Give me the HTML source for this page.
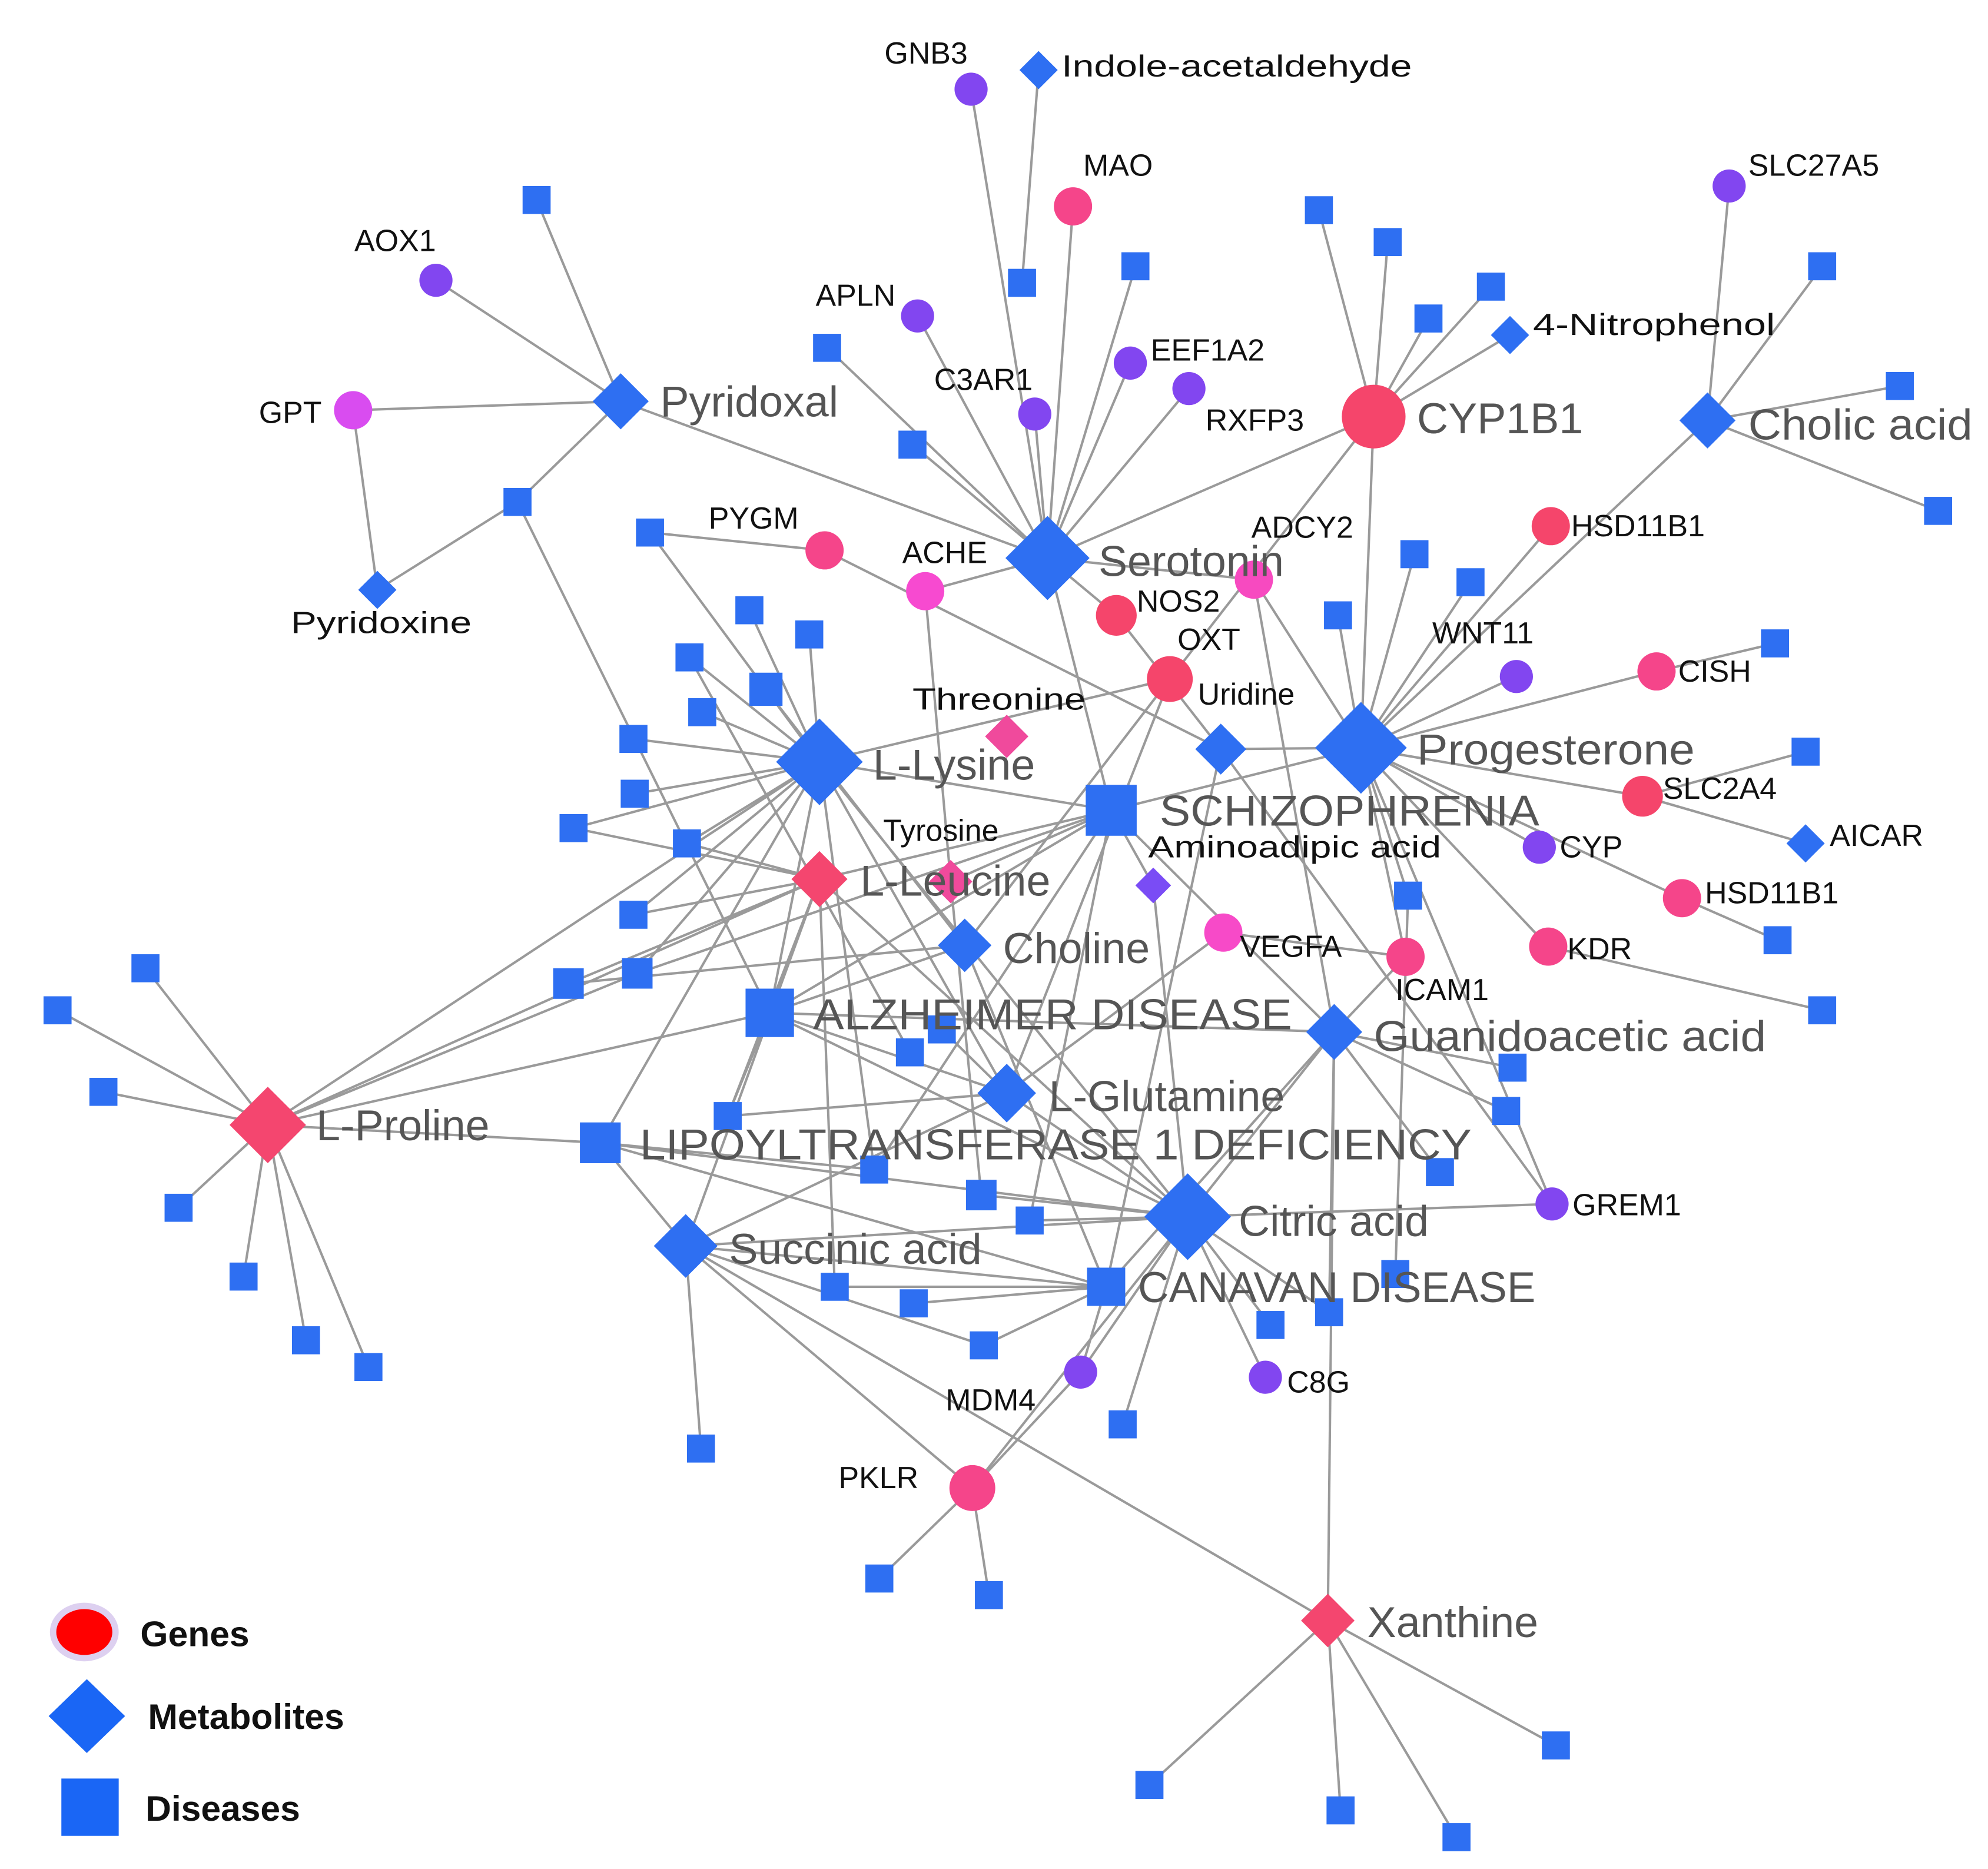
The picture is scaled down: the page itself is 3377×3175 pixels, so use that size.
<!DOCTYPE html>
<html><head><meta charset="utf-8"><style>
html,body{margin:0;padding:0;background:#fff;}
svg{display:block;}
.e{stroke:#9a9a9a;stroke-width:1.9;fill:none}
.b{fill:#2e6ff2}
.L{font-family:"Liberation Sans",sans-serif;font-size:34px;fill:#555;}
.s{font-family:"Liberation Sans",sans-serif;font-size:24px;fill:#111;}
.g{font-family:"Liberation Sans",sans-serif;font-size:28px;font-weight:bold;fill:#111;}
</style></head><body>
<svg width="3377" height="3175" viewBox="0 0 1560 1467" xmlns="http://www.w3.org/2000/svg">
<g class="e">
<line x1="762" y1="70" x2="822" y2="438"/><line x1="815" y1="55" x2="802" y2="222"/>
<line x1="842" y1="162" x2="822" y2="438"/><line x1="891" y1="209" x2="822" y2="438"/>
<line x1="649" y1="273" x2="822" y2="438"/><line x1="716" y1="349" x2="822" y2="438"/>
<line x1="720" y1="248" x2="822" y2="438"/><line x1="887" y1="285" x2="822" y2="438"/>
<line x1="933" y1="305" x2="822" y2="438"/><line x1="812" y1="325" x2="822" y2="438"/>
<line x1="822" y1="438" x2="1078" y2="327"/><line x1="726" y1="464" x2="822" y2="438"/>
<line x1="822" y1="438" x2="872" y2="636"/><line x1="822" y1="438" x2="876" y2="483"/>
<line x1="822" y1="438" x2="984" y2="455"/><line x1="487" y1="315" x2="822" y2="438"/>
<line x1="342" y1="220" x2="487" y2="315"/><line x1="421" y1="157" x2="487" y2="315"/>
<line x1="277" y1="322" x2="487" y2="315"/><line x1="277" y1="322" x2="296" y2="463"/>
<line x1="296" y1="463" x2="406" y2="394"/><line x1="406" y1="394" x2="487" y2="315"/>
<line x1="406" y1="394" x2="604" y2="795"/>
<line x1="1035" y1="165" x2="1078" y2="327"/><line x1="1089" y1="190" x2="1078" y2="327"/>
<line x1="1170" y1="225" x2="1078" y2="327"/><line x1="1121" y1="250" x2="1078" y2="327"/>
<line x1="1185" y1="263" x2="1078" y2="327"/><line x1="1078" y1="327" x2="1068" y2="587"/>
<line x1="1078" y1="327" x2="918" y2="533"/><line x1="918" y1="533" x2="757" y2="742"/>
<line x1="1357" y1="146" x2="1340" y2="330"/><line x1="1430" y1="209" x2="1340" y2="330"/>
<line x1="1491" y1="303" x2="1340" y2="330"/><line x1="1521" y1="401" x2="1340" y2="330"/>
<line x1="1340" y1="330" x2="1068" y2="587"/>
<line x1="1217" y1="413" x2="1068" y2="587"/><line x1="1110" y1="435" x2="1068" y2="587"/>
<line x1="1154" y1="457" x2="1068" y2="587"/><line x1="1050" y1="483" x2="1068" y2="587"/>
<line x1="1190" y1="531" x2="1068" y2="587"/><line x1="1300" y1="527" x2="1068" y2="587"/>
<line x1="1393" y1="505" x2="1300" y2="527"/><line x1="1289" y1="625" x2="1068" y2="587"/>
<line x1="1417" y1="590" x2="1289" y2="625"/><line x1="1208" y1="665" x2="1068" y2="587"/>
<line x1="1289" y1="625" x2="1417" y2="662"/><line x1="1320" y1="705" x2="1068" y2="587"/>
<line x1="1320" y1="705" x2="1395" y2="738"/><line x1="1215" y1="743" x2="1068" y2="587"/>
<line x1="1215" y1="743" x2="1430" y2="793"/><line x1="1103" y1="751" x2="1068" y2="587"/>
<line x1="1105" y1="703" x2="1068" y2="587"/><line x1="984" y1="455" x2="1068" y2="587"/>
<line x1="872" y1="636" x2="1068" y2="587"/><line x1="958" y1="588" x2="1068" y2="587"/>
<line x1="1218" y1="945" x2="1068" y2="587"/><line x1="984" y1="455" x2="1047" y2="810"/>
<line x1="510" y1="418" x2="647" y2="432"/><line x1="647" y1="432" x2="958" y2="588"/>
<line x1="958" y1="588" x2="1218" y2="945"/><line x1="876" y1="483" x2="958" y2="588"/>
<line x1="958" y1="588" x2="868" y2="1010"/>
<line x1="510" y1="418" x2="643" y2="598"/><line x1="588" y1="479" x2="643" y2="598"/>
<line x1="635" y1="498" x2="643" y2="598"/><line x1="541" y1="516" x2="643" y2="598"/>
<line x1="600" y1="540" x2="643" y2="598"/><line x1="551" y1="559" x2="643" y2="598"/>
<line x1="497" y1="580" x2="643" y2="598"/><line x1="498" y1="623" x2="643" y2="598"/>
<line x1="450" y1="650" x2="643" y2="598"/><line x1="539" y1="662" x2="643" y2="598"/>
<line x1="497" y1="718" x2="643" y2="598"/><line x1="500" y1="764" x2="643" y2="598"/>
<line x1="643" y1="598" x2="872" y2="636"/><line x1="643" y1="598" x2="604" y2="795"/>
<line x1="643" y1="598" x2="471" y2="897"/><line x1="643" y1="598" x2="932" y2="955"/>
<line x1="643" y1="598" x2="210" y2="883"/><line x1="643" y1="598" x2="918" y2="533"/>
<line x1="643" y1="598" x2="790" y2="858"/><line x1="643" y1="598" x2="686" y2="918"/>
<line x1="726" y1="464" x2="746" y2="692"/><line x1="746" y1="692" x2="770" y2="938"/>
<line x1="600" y1="540" x2="757" y2="742"/><line x1="541" y1="516" x2="714" y2="826"/>
<line x1="450" y1="650" x2="643" y2="690"/><line x1="539" y1="662" x2="643" y2="690"/>
<line x1="497" y1="718" x2="643" y2="690"/><line x1="446" y1="772" x2="643" y2="690"/>
<line x1="643" y1="690" x2="872" y2="636"/><line x1="643" y1="690" x2="932" y2="955"/>
<line x1="643" y1="690" x2="571" y2="876"/><line x1="643" y1="690" x2="655" y2="1010"/>
<line x1="643" y1="690" x2="538" y2="978"/><line x1="210" y1="883" x2="643" y2="690"/>
<line x1="746" y1="692" x2="872" y2="636"/><line x1="500" y1="764" x2="872" y2="636"/>
<line x1="872" y1="636" x2="686" y2="918"/><line x1="872" y1="636" x2="808" y2="958"/>
<line x1="872" y1="636" x2="604" y2="795"/><line x1="872" y1="636" x2="1047" y2="810"/>
<line x1="905" y1="695" x2="872" y2="636"/>
<line x1="757" y1="742" x2="604" y2="795"/><line x1="757" y1="742" x2="446" y2="772"/>
<line x1="757" y1="742" x2="868" y2="1010"/><line x1="960" y1="732" x2="790" y2="858"/>
<line x1="960" y1="732" x2="1103" y2="751"/><line x1="604" y1="795" x2="1047" y2="810"/>
<line x1="604" y1="795" x2="210" y2="883"/><line x1="604" y1="795" x2="932" y2="955"/>
<line x1="604" y1="795" x2="790" y2="858"/><line x1="604" y1="795" x2="571" y2="876"/>
<line x1="739" y1="808" x2="790" y2="858"/>
<line x1="790" y1="858" x2="932" y2="955"/><line x1="790" y1="858" x2="538" y2="978"/>
<line x1="790" y1="858" x2="918" y2="533"/>
<line x1="1103" y1="751" x2="1047" y2="810"/><line x1="1187" y1="838" x2="1047" y2="810"/>
<line x1="1182" y1="872" x2="1047" y2="810"/><line x1="1047" y1="810" x2="1042" y2="1272"/>
<line x1="1047" y1="810" x2="932" y2="955"/><line x1="1047" y1="810" x2="868" y2="1010"/>
<line x1="1047" y1="810" x2="1130" y2="920"/><line x1="1047" y1="810" x2="1043" y2="1030"/>
<line x1="1105" y1="703" x2="1095" y2="1000"/>
<line x1="471" y1="897" x2="932" y2="955"/><line x1="993" y1="1081" x2="932" y2="955"/>
<line x1="848" y1="1077" x2="932" y2="955"/><line x1="881" y1="1118" x2="932" y2="955"/>
<line x1="997" y1="1040" x2="932" y2="955"/><line x1="1043" y1="1030" x2="932" y2="955"/>
<line x1="1218" y1="945" x2="932" y2="955"/><line x1="538" y1="978" x2="932" y2="955"/>
<line x1="770" y1="938" x2="932" y2="955"/><line x1="808" y1="958" x2="932" y2="955"/>
<line x1="932" y1="955" x2="763" y2="1168"/><line x1="932" y1="955" x2="905" y2="695"/>
<line x1="538" y1="978" x2="868" y2="1010"/><line x1="655" y1="1010" x2="868" y2="1010"/>
<line x1="717" y1="1023" x2="868" y2="1010"/><line x1="772" y1="1056" x2="868" y2="1010"/>
<line x1="848" y1="1077" x2="868" y2="1010"/><line x1="471" y1="897" x2="868" y2="1010"/>
<line x1="471" y1="897" x2="538" y2="978"/><line x1="550" y1="1137" x2="538" y2="978"/>
<line x1="538" y1="978" x2="763" y2="1168"/><line x1="538" y1="978" x2="772" y2="1056"/>
<line x1="538" y1="978" x2="1042" y2="1272"/>
<line x1="690" y1="1239" x2="763" y2="1168"/><line x1="776" y1="1252" x2="763" y2="1168"/>
<line x1="763" y1="1168" x2="848" y2="1077"/>
<line x1="902" y1="1401" x2="1042" y2="1272"/><line x1="1052" y1="1421" x2="1042" y2="1272"/>
<line x1="1143" y1="1442" x2="1042" y2="1272"/><line x1="1221" y1="1370" x2="1042" y2="1272"/>
<line x1="114" y1="760" x2="210" y2="883"/><line x1="45" y1="793" x2="210" y2="883"/>
<line x1="81" y1="857" x2="210" y2="883"/><line x1="140" y1="948" x2="210" y2="883"/>
<line x1="191" y1="1002" x2="210" y2="883"/><line x1="240" y1="1052" x2="210" y2="883"/>
<line x1="289" y1="1073" x2="210" y2="883"/><line x1="210" y1="883" x2="471" y2="897"/>
<line x1="210" y1="883" x2="500" y2="764"/>
<line x1="471" y1="897" x2="686" y2="918"/><line x1="571" y1="876" x2="790" y2="858"/>
</g>
<g class="b">
<rect x="410" y="146" width="22" height="22"/><rect x="395" y="383" width="22" height="22"/>
<rect x="791" y="211" width="22" height="22"/><rect x="880" y="198" width="22" height="22"/>
<rect x="638" y="262" width="22" height="22"/><rect x="705" y="338" width="22" height="22"/>
<rect x="1024" y="154" width="22" height="22"/><rect x="1078" y="179" width="22" height="22"/>
<rect x="1159" y="214" width="22" height="22"/><rect x="1110" y="239" width="22" height="22"/>
<rect x="1419" y="198" width="22" height="22"/><rect x="1480" y="292" width="22" height="22"/>
<rect x="1510" y="390" width="22" height="22"/>
<rect x="1099" y="424" width="22" height="22"/><rect x="1143" y="446" width="22" height="22"/>
<rect x="1039" y="472" width="22" height="22"/><rect x="1382" y="494" width="22" height="22"/>
<rect x="1406" y="579" width="22" height="22"/><rect x="1384" y="727" width="22" height="22"/>
<rect x="1419" y="782" width="22" height="22"/><rect x="1094" y="692" width="22" height="22"/>
<rect x="499" y="407" width="22" height="22"/><rect x="577" y="468" width="22" height="22"/>
<rect x="624" y="487" width="22" height="22"/><rect x="530" y="505" width="22" height="22"/>
<rect x="588" y="528" width="26" height="26"/><rect x="540" y="548" width="22" height="22"/>
<rect x="486" y="569" width="22" height="22"/><rect x="487" y="612" width="22" height="22"/>
<rect x="439" y="639" width="22" height="22"/><rect x="528" y="651" width="22" height="22"/>
<rect x="486" y="707" width="22" height="22"/><rect x="488" y="752" width="24" height="24"/>
<rect x="434" y="760" width="24" height="24"/>
<rect x="103" y="749" width="22" height="22"/><rect x="34" y="782" width="22" height="22"/>
<rect x="70" y="846" width="22" height="22"/><rect x="129" y="937" width="22" height="22"/>
<rect x="180" y="991" width="22" height="22"/><rect x="229" y="1041" width="22" height="22"/>
<rect x="278" y="1062" width="22" height="22"/>
<rect x="703" y="815" width="22" height="22"/><rect x="728" y="797" width="22" height="22"/>
<rect x="560" y="865" width="22" height="22"/><rect x="675" y="907" width="22" height="22"/>
<rect x="758" y="926" width="24" height="24"/><rect x="797" y="947" width="22" height="22"/>
<rect x="644" y="999" width="22" height="22"/><rect x="706" y="1012" width="22" height="22"/>
<rect x="761" y="1045" width="22" height="22"/><rect x="539" y="1126" width="22" height="22"/>
<rect x="870" y="1107" width="22" height="22"/><rect x="986" y="1029" width="22" height="22"/>
<rect x="1032" y="1019" width="22" height="22"/><rect x="1119" y="909" width="22" height="22"/>
<rect x="1176" y="827" width="22" height="22"/><rect x="1171" y="861" width="22" height="22"/>
<rect x="1084" y="989" width="22" height="22"/>
<rect x="679" y="1228" width="22" height="22"/><rect x="765" y="1241" width="22" height="22"/>
<rect x="891" y="1390" width="22" height="22"/><rect x="1041" y="1410" width="22" height="22"/>
<rect x="1132" y="1431" width="22" height="22"/><rect x="1210" y="1359" width="22" height="22"/>
<rect x="852" y="616" width="40" height="40"/><rect x="585" y="776" width="38" height="38"/>
<rect x="455" y="881" width="32" height="32"/><rect x="853" y="995" width="30" height="30"/>
<polygon points="815,40 830,55 815,70 800,55"/>
<polygon points="487,293 509,315 487,337 465,315"/>
<polygon points="296,448 311,463 296,478 281,463"/>
<polygon points="822,405 855,438 822,471 789,438"/>
<polygon points="1185,248 1200,263 1185,278 1170,263"/>
<polygon points="1340,308 1362,330 1340,352 1318,330"/>
<polygon points="643,564 677,598 643,632 609,598"/>
<polygon points="958,568 978,588 958,608 938,588"/>
<polygon points="1068,551 1104,587 1068,623 1032,587"/>
<polygon points="1417,647 1432,662 1417,677 1402,662"/>
<polygon points="757,721 778,742 757,763 736,742"/>
<polygon points="1047,788 1069,810 1047,832 1025,810"/>
<polygon points="790,835 813,858 790,881 767,858"/>
<polygon points="932,921 966,955 932,989 898,955"/>
<polygon points="538,953 563,978 538,1003 513,978"/>
</g>
<polygon points="905,681 919,695 905,709 891,695" fill="#7a4cf5"/>
<g fill="#f4466f">
<polygon points="643,668 665,690 643,712 621,690"/>
<polygon points="210,853 240,883 210,913 180,883"/>
<polygon points="1042,1251 1063,1272 1042,1293 1021,1272"/>
</g>
<g fill="#f04a9c">
<polygon points="790,561 807,578 790,595 773,578"/>
<polygon points="746,675 763,692 746,709 729,692"/>
</g>
<g fill="#8246f0">
<circle cx="762" cy="70" r="13"/><circle cx="342" cy="220" r="13"/><circle cx="720" cy="248" r="13"/>
<circle cx="887" cy="285" r="13"/><circle cx="933" cy="305" r="13"/><circle cx="812" cy="325" r="13"/>
<circle cx="1357" cy="146" r="13"/><circle cx="1190" cy="531" r="13"/><circle cx="1208" cy="665" r="13"/>
<circle cx="1218" cy="945" r="13"/><circle cx="848" cy="1077" r="13"/><circle cx="993" cy="1081" r="13"/>
</g>
<circle cx="277" cy="322" r="15" fill="#d94cf0"/>
<g fill="#f5458a">
<circle cx="1078" cy="327" r="25" fill="#f5456b"/>
<circle cx="1217" cy="413" r="15" fill="#f5456b"/>
<circle cx="876" cy="483" r="16" fill="#f5456b"/>
<circle cx="918" cy="533" r="18" fill="#f5456b"/>
<circle cx="1289" cy="625" r="16" fill="#f5456b"/>
<circle cx="842" cy="162" r="15"/><circle cx="647" cy="432" r="15"/>
<circle cx="726" cy="464" r="15" fill="#f74ad0"/><circle cx="984" cy="455" r="15" fill="#f74ac0"/>
<circle cx="1300" cy="527" r="15"/><circle cx="1320" cy="705" r="15"/>
<circle cx="960" cy="732" r="15" fill="#f74ac8"/><circle cx="1103" cy="751" r="15"/>
<circle cx="1215" cy="743" r="15"/><circle cx="763" cy="1168" r="18"/>
</g>
<g class="L">
<text x="518" y="327">Pyridoxal</text>
<text x="862" y="452">Serotonin</text>
<text x="1112" y="340">CYP1B1</text>
<text x="1372" y="345" textLength="176" lengthAdjust="spacingAndGlyphs">Cholic acid</text>
<text x="685" y="612">L-Lysine</text>
<text x="1112" y="600" textLength="218" lengthAdjust="spacingAndGlyphs">Progesterone</text>
<text x="910" y="648" textLength="298" lengthAdjust="spacingAndGlyphs">SCHIZOPHRENIA</text>
<text x="675" y="703">L-Leucine</text>
<text x="787" y="756">Choline</text>
<text x="638" y="808" textLength="376" lengthAdjust="spacingAndGlyphs">ALZHEIMER DISEASE</text>
<text x="1078" y="825" textLength="308" lengthAdjust="spacingAndGlyphs">Guanidoacetic acid</text>
<text x="823" y="872">L-Glutamine</text>
<text x="248" y="895">L-Proline</text>
<text x="502" y="910" textLength="653" lengthAdjust="spacingAndGlyphs">LIPOYLTRANSFERASE 1 DEFICIENCY</text>
<text x="972" y="970">Citric acid</text>
<text x="572" y="992">Succinic acid</text>
<text x="893" y="1022" textLength="312" lengthAdjust="spacingAndGlyphs">CANAVAN DISEASE</text>
<text x="1073" y="1285">Xanthine</text>
</g>
<g class="s">
<text x="694" y="50">GNB3</text>
<text x="833" y="60" textLength="275" lengthAdjust="spacingAndGlyphs">Indole-acetaldehyde</text>
<text x="850" y="138">MAO</text>
<text x="1372" y="138">SLC27A5</text>
<text x="278" y="197">AOX1</text>
<text x="640" y="240">APLN</text>
<text x="903" y="283">EEF1A2</text>
<text x="1203" y="263" textLength="190" lengthAdjust="spacingAndGlyphs">4-Nitrophenol</text>
<text x="733" y="306">C3AR1</text>
<text x="946" y="338">RXFP3</text>
<text x="203" y="332">GPT</text>
<text x="556" y="415">PYGM</text>
<text x="1233" y="421">HSD11B1</text>
<text x="982" y="422">ADCY2</text>
<text x="708" y="442">ACHE</text>
<text x="892" y="480">NOS2</text>
<text x="228" y="497" textLength="142" lengthAdjust="spacingAndGlyphs">Pyridoxine</text>
<text x="924" y="510">OXT</text>
<text x="1124" y="505">WNT11</text>
<text x="1317" y="535">CISH</text>
<text x="716" y="557" textLength="136" lengthAdjust="spacingAndGlyphs">Threonine</text>
<text x="940" y="553">Uridine</text>
<text x="1305" y="627">SLC2A4</text>
<text x="693" y="660">Tyrosine</text>
<text x="901" y="673" textLength="230" lengthAdjust="spacingAndGlyphs">Aminoadipic acid</text>
<text x="1224" y="673">CYP</text>
<text x="1436" y="664">AICAR</text>
<text x="1338" y="709">HSD11B1</text>
<text x="973" y="751">VEGFA</text>
<text x="1230" y="753">KDR</text>
<text x="1095" y="785">ICAM1</text>
<text x="1234" y="954">GREM1</text>
<text x="742" y="1107">MDM4</text>
<text x="1010" y="1093">C8G</text>
<text x="658" y="1168">PKLR</text>
</g>
<ellipse cx="66" cy="1281" rx="27" ry="23" fill="#ddd0f0"/>
<ellipse cx="66" cy="1281" rx="22" ry="18" fill="#f00"/>
<text class="g" x="110" y="1292">Genes</text>
<polygon points="68,1318 98,1347 68,1376 38,1347" fill="#1a66f5"/>
<text class="g" x="116" y="1357">Metabolites</text>
<rect x="48" y="1396" width="45" height="45" fill="#1a66f5"/>
<text class="g" x="114" y="1429">Diseases</text>
</svg>
</body></html>
